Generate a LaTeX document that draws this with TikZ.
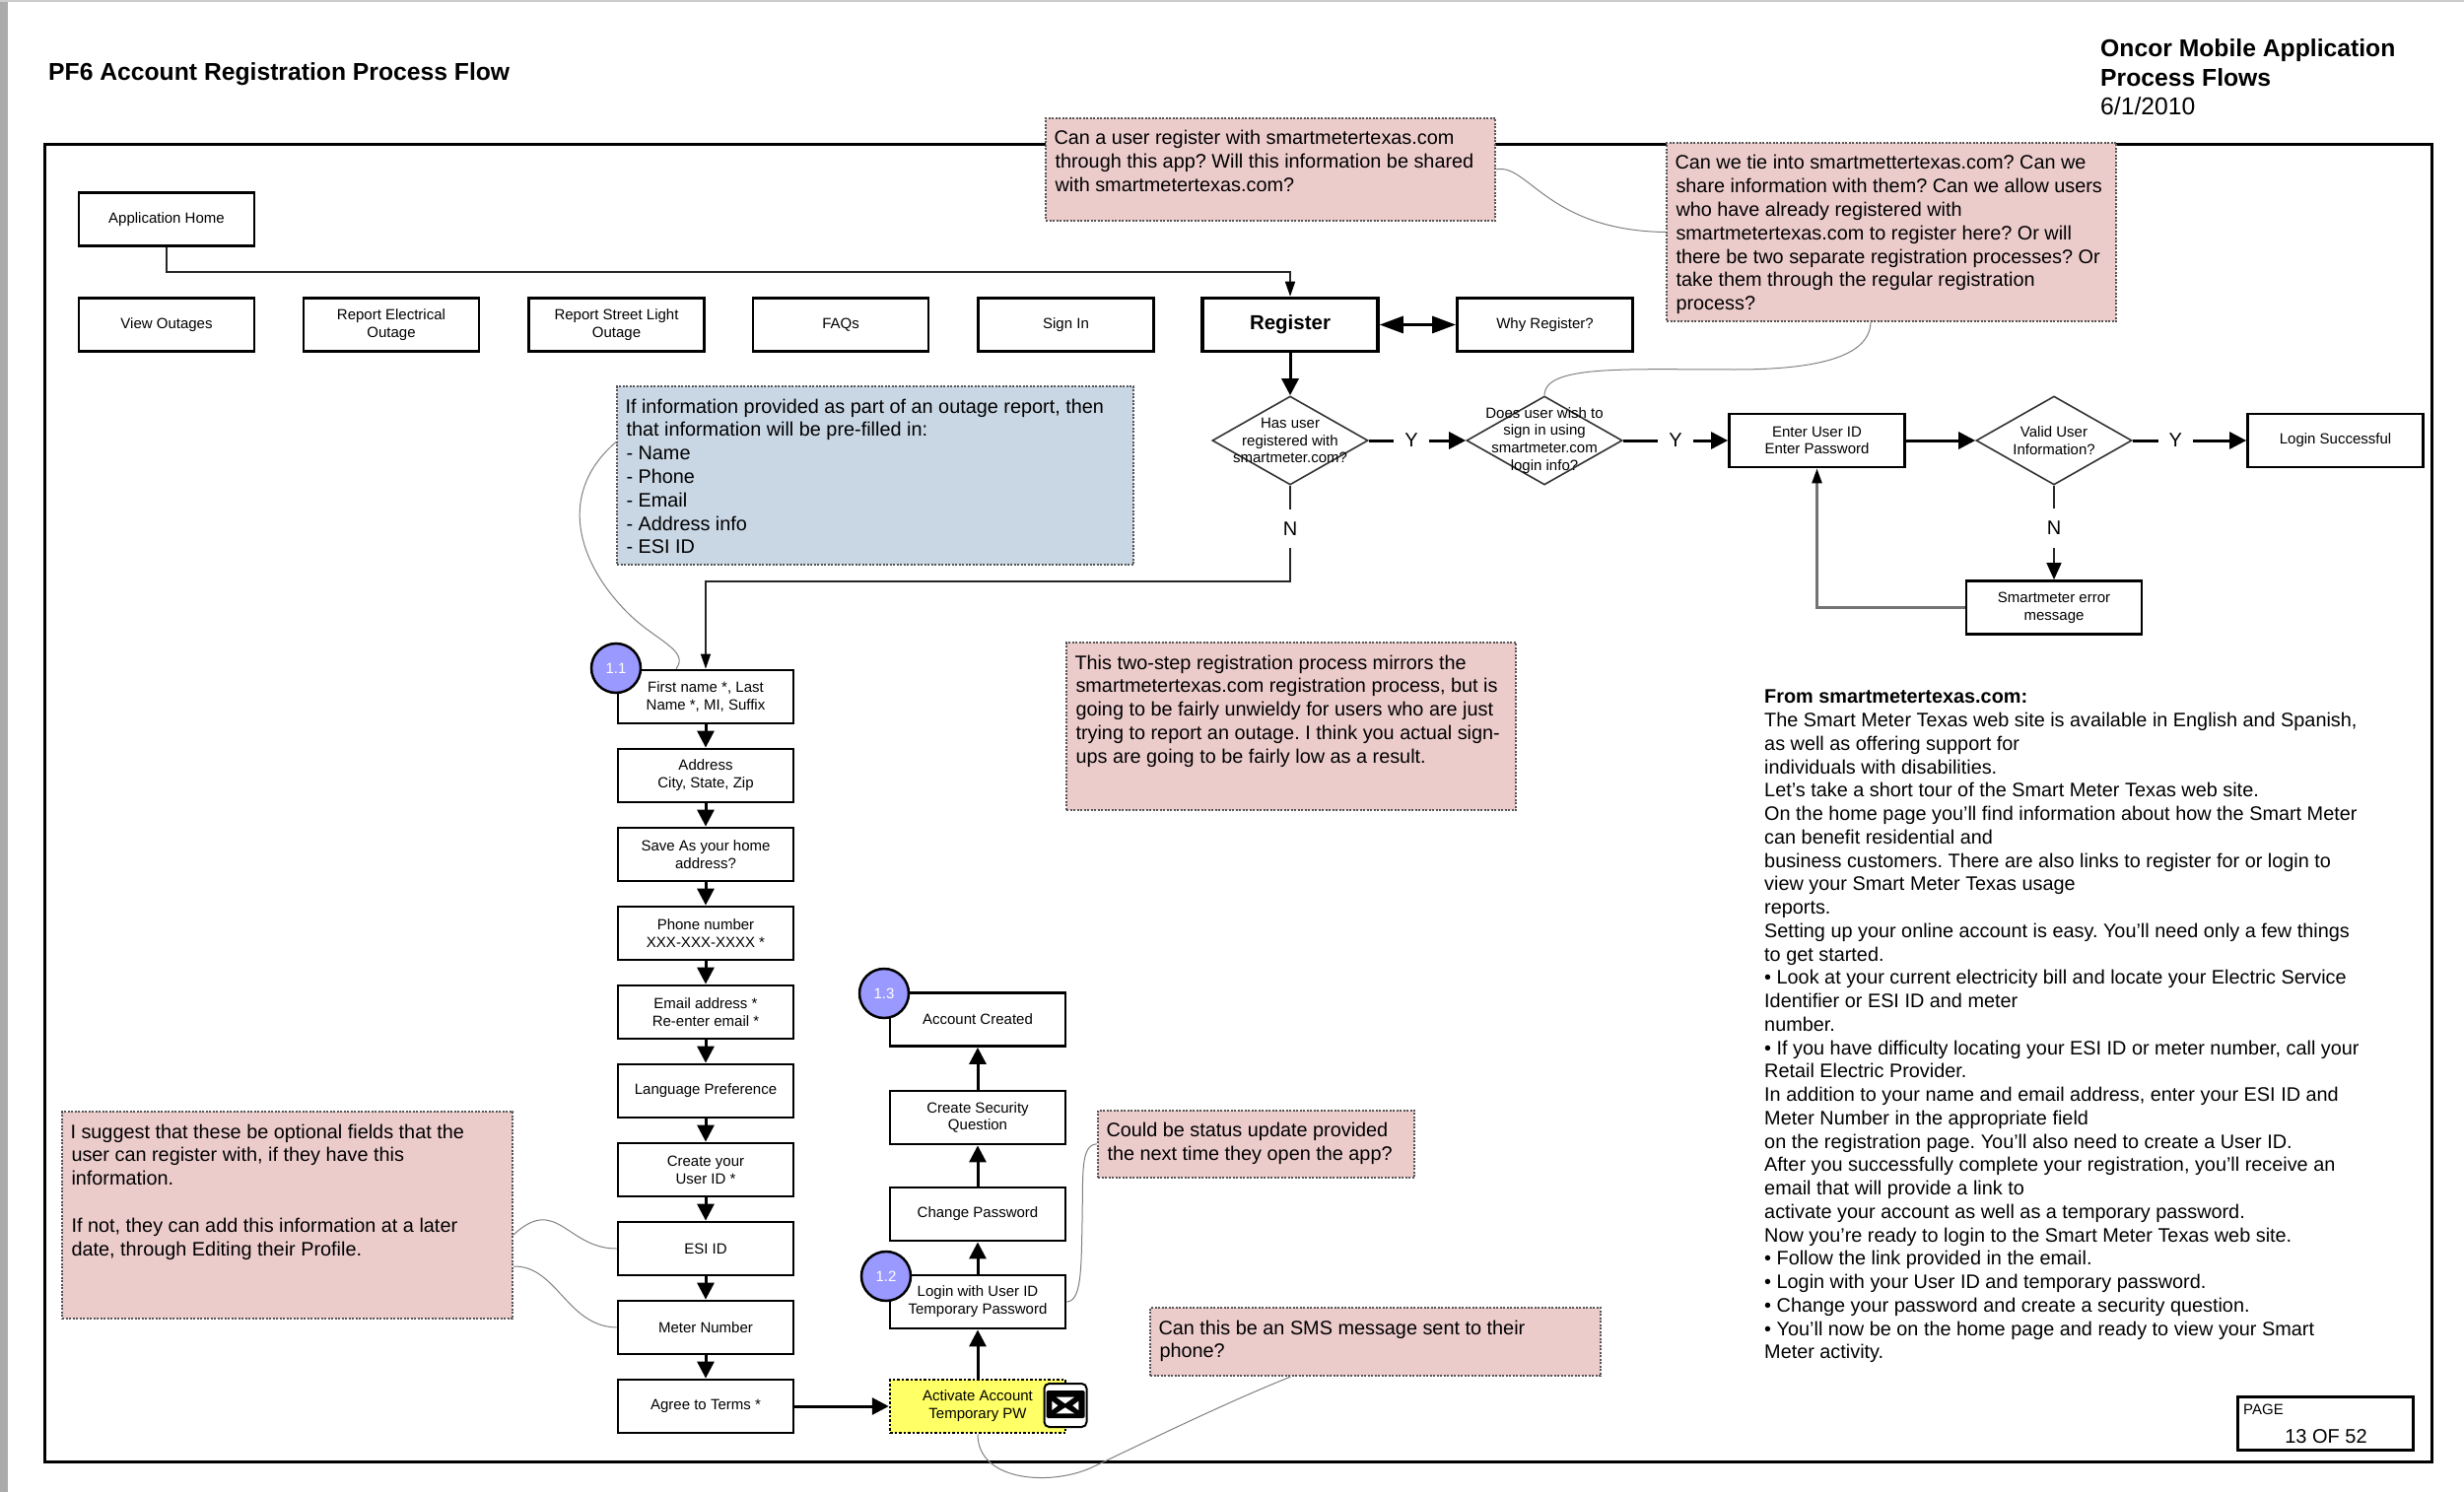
\documentclass[tikz,border=0pt]{standalone}
\usepackage{fontspec}
\setmainfont{Liberation Sans}
\usetikzlibrary{arrows.meta,shapes.geometric}
\definecolor{notepink}{RGB}{236,203,203}
\definecolor{noteblue}{RGB}{201,214,228}
\definecolor{noteline}{RGB}{85,85,85}
\definecolor{markblue}{RGB}{153,153,255}
\definecolor{mailyellow}{RGB}{255,255,102}
\newcommand{\fsmall}{\fontsize{15}{17.8}\selectfont}
\newcommand{\fnote}{\fontsize{19.85}{23.8}\selectfont\frenchspacing}
\newcommand{\notetext}[3]{\parbox[c][#2pt][t]{#1pt}{\raggedright\hspace*{-1pt}\rule{0pt}{27pt}#3}}
\tikzset{
    x=1pt,y=-1pt,
    stepbox/.style={draw,line width=2.8pt,fill=white,inner sep=0pt,minimum width=178pt,minimum height=54pt,align=center,font=\fsmall},
    bigbox/.style={stepbox,line width=3.5pt,font=\fontsize{20.5}{24}\selectfont\bfseries},
    mailbox/.style={stepbox,fill=mailyellow,line width=2.5pt,dash pattern=on 2.5pt off 2pt},
    decision/.style={draw,diamond,line width=1.6pt,draw=black!80,inner sep=0pt,minimum width=158pt,minimum height=90pt,aspect=1.756},
    decisiontext/.style={font=\fsmall,align=center},
    note/.style={draw=noteline,line width=2pt,dash pattern=on 2pt off 1.5pt,inner xsep=9.5pt,inner ysep=0pt,anchor=north west,font=\fnote},
    stepmark/.style={draw,circle,line width=2.5pt,fill=markblue,text=white,inner sep=0pt,minimum size=50pt,font=\fsmall},
    flow/.style={line width=3pt,-{Triangle[length=17pt,width=17pt]}},
    link/.style={line width=1.6pt,draw=black!85},
    linktip/.style={link,-{Triangle[length=15pt,width=10pt,black]}},
    remark/.style={line width=1pt,draw=black!50},
    answer/.style={fill=white,font=\fontsize{20}{24}\selectfont,inner xsep=11pt,inner ysep=13pt},
}
\begin{document}
\begin{tikzpicture}
    \useasboundingbox (0,0) rectangle (2500,1514);
    \fill[white] (0,0) rectangle (2500,1514);
    \fill[black!33] (0,0) rectangle (8,1514);
    \fill[black!20] (0,0) rectangle (2500,2);
    \draw[line width=3pt] (45,147) rectangle (2467,1483);

    \node[anchor=west,inner sep=0pt,font=\fontsize{24.7}{29.5}\selectfont\bfseries] (title) at (49,75.5) {PF6 Account Registration Process Flow};
    \node[anchor=north west,inner sep=0pt,align=left,font=\fontsize{24.7}{29.5}\selectfont] (heading) at (2131,39.5) {\textbf{Oncor Mobile Application}\\\textbf{Process Flows}\\6/1/2010};

    \node[stepbox] (home) at (169,222.5) {Application Home};
    \node[stepbox] (outages) at (169,329.5) {View Outages};
    \node[stepbox] (electrical) at (397,329.5) {Report Electrical\\Outage};
    \node[stepbox] (streetlight) at (625.5,329.5) {Report Street Light\\Outage};
    \node[stepbox] (faqs) at (853,329.5) {FAQs};
    \node[stepbox] (signin) at (1081.5,329.5) {Sign In};
    \node[bigbox] (register) at (1309,329.5) {Register};
    \node[stepbox] (why) at (1567.5,329.5) {Why Register?};

    \node[decision,label={[decisiontext]center:Has user\\registered with\\smartmeter.com?}] (hasuser) at (1309,447) {};
    \node[decision,label={[decisiontext]center:Does user wish to\\sign in using\\smartmeter.com\\login info?}] (wishsign) at (1567,447) {};
    \node[stepbox] (enter) at (1843.5,447) {Enter User ID\\Enter Password};
    \node[decision,label={[decisiontext]center:Valid User\\Information?}] (valid) at (2084,447) {};
    \node[stepbox] (success) at (2369.5,447) {Login Successful};
    \node[stepbox] (error) at (2084,616.5) {Smartmeter error\\message};

    \node[stepbox] (first) at (716,707) {First name *, Last\\Name *, MI, Suffix};
    \node[stepbox] (address) at (716,787) {Address\\City, State, Zip};
    \node[stepbox] (save) at (716,867) {Save As your home\\address?};
    \node[stepbox] (phone) at (716,947) {Phone number\\XXX-XXX-XXXX *};
    \node[stepbox] (email) at (716,1027) {Email address *\\Re-enter email *};
    \node[stepbox] (language) at (716,1107) {Language Preference};
    \node[stepbox] (userid) at (716,1187) {Create your\\User ID *};
    \node[stepbox] (esi) at (716,1267) {ESI ID};
    \node[stepbox] (meter) at (716,1347) {Meter Number};
    \node[stepbox] (terms) at (716,1427) {Agree to Terms *};

    \node[stepbox] (created) at (992,1034.5) {Account Created};
    \node[stepbox] (security) at (992,1134) {Create Security\\Question};
    \node[stepbox] (change) at (992,1232) {Change Password};
    \node[stepbox] (login) at (992,1321) {Login with User ID\\Temporary Password};
    \node[mailbox] (activate) at (992,1427) {Activate Account\\Temporary PW};

    \coordinate (hometurn) at (169,276);
    \draw[linktip] (home.south) -- (hometurn) -| (register.north);
    \draw[flow,{Triangle[length=24pt,width=17pt]}-{Triangle[length=24pt,width=17pt]}] (register) -- (why);
    \draw[flow] (register) -- (hasuser);
    \draw[flow] (hasuser) -- node[answer,pos=.44]{Y} (wishsign);
    \draw[flow] (wishsign) -- node[answer]{Y} (enter);
    \draw[flow] (enter) -- (valid);
    \draw[flow] (valid) -- node[answer,pos=.376]{Y} (success);
    \draw[link,-{Triangle[length=17pt,width=15pt,black]}] (valid) -- node[answer,pos=.45]{N} (error);
    \draw[linktip,draw=black!55,line width=2.5pt] (error) -| (enter);
    \coordinate (noturn) at (1309,590);
    \draw[linktip] (hasuser) -- node[answer,pos=.45]{N} (noturn) -| (first);

    \draw[flow] (first) -- (address);
    \draw[flow] (address) -- (save);
    \draw[flow] (save) -- (phone);
    \draw[flow] (phone) -- (email);
    \draw[flow] (email) -- (language);
    \draw[flow] (language) -- (userid);
    \draw[flow] (userid) -- (esi);
    \draw[flow] (esi) -- (meter);
    \draw[flow] (meter) -- (terms);
    \draw[flow] (terms) -- (activate);
    \draw[flow] (activate) -- (login);
    \draw[flow] (login) -- (change);
    \draw[flow] (change) -- (security);
    \draw[flow] (security) -- (created);

    \node[stepmark] (mark1) at (625,678) {1.1};
    \node[stepmark] (mark2) at (899,1295) {1.2};
    \node[stepmark] (mark3) at (897,1008) {1.3};

    \node[draw,line width=2pt,fill=white,rounded corners=5pt,inner sep=0pt,minimum width=43pt,minimum height=44pt] (mail) at (1081,1426) {};
    \node[fill=black,rounded corners=1.5pt,inner sep=0pt,minimum width=39pt,minimum height=28pt] (mailicon) at (1081.2,1425) {};
    \fill[white] (1071.7,1417.7) -- (1090,1417.7) -- (1080.7,1424.3) -- cycle;
    \fill[white] (1071.7,1434.3) -- (1090,1434.3) -- (1080.7,1428.3) -- cycle;
    \fill[white] (1067.3,1421.7) -- (1067.3,1431) -- (1073.3,1426.3) -- cycle;
    \fill[white] (1094.3,1421.7) -- (1094.3,1431) -- (1088.3,1426.3) -- cycle;

    \node[note,fill=notepink] (tiein) at (1060,119) {\notetext{437}{104}{Can a user register with smartmetertexas.com\\through this app? Will this information be shared\\with smartmetertexas.com?}};
    \node[note,fill=notepink] (share) at (1690,144) {\notetext{437}{181}{Can we tie into smartmettertexas.com? Can we\\share information with them? Can we allow users\\who have already registered with\\smartmetertexas.com to register here? Or will\\there be two separate registration processes? Or\\take them through the regular registration\\process?}};
    \node[note,fill=noteblue] (prefill) at (625,391) {\notetext{505}{181}{If information provided as part of an outage report, then\\that information will be pre-filled in:\\- Name\\- Phone\\- Email\\- Address info\\- ESI ID}};
    \node[note,fill=notepink] (twostep) at (1081,651) {\notetext{437}{170}{This two-step registration process mirrors the\\smartmetertexas.com registration process, but is\\going to be fairly unwieldy for users who are just\\trying to report an outage. I think you actual sign-\\ups are going to be fairly low as a result.}};
    \node[note,fill=notepink] (optional) at (62,1127) {\notetext{438}{210}{I suggest that these be optional fields that the\\user can register with, if they have this\\information.\\\mbox{}\\If not, they can add this information at a later\\date, through Editing their Profile.}};
    \node[note,fill=notepink] (status) at (1113,1125.5) {\notetext{302}{68.5}{Could be status update provided\\the next time they open the app?}};
    \node[note,fill=notepink] (sms) at (1166,1326) {\notetext{438}{69}{Can this be an SMS message sent to their\\phone?}};

    \draw[remark] (tiein.east) .. controls (1550,165) and (1570,234) .. (share.west);
    \draw[remark] ([xshift=-21pt]share.south) .. controls (1897,360) and (1850,375) .. (1760,375) .. controls (1650,375) and (1567,370) .. (wishsign.north);
    \draw[remark] ([yshift=34pt]prefill.west) .. controls (565,500) and (585,570) .. (637,622) .. controls (665,650) and (700,660) .. ([xshift=-30pt]first.north);
    \draw[remark] ([yshift=-20pt]optional.east) .. controls (565,1212) and (575,1267) .. (esi.west);
    \draw[remark] ([yshift=-52pt]optional.east) .. controls (565,1284) and (575,1346) .. (meter.west);
    \draw[remark] (status.west) .. controls (1096,1162) and (1099,1190) .. (1098,1240) .. controls (1097,1290) and (1097,1320) .. (login.east);
    \draw[remark] ([xshift=-86pt]sms.south) .. controls (1240,1425) and (1165,1462) .. (1110,1488) .. controls (1070,1508) and (992,1505) .. (activate.south);

    \node[anchor=north west,inner sep=0pt,align=left,font=\fontsize{19.85}{23.75}\selectfont\frenchspacing] (source) at (1790,700) {\textbf{From smartmetertexas.com:}\\
        The Smart Meter Texas web site is available in English and Spanish,\\
        as well as offering support for\\
        individuals with disabilities.\\
        Let's take a short tour of the Smart Meter Texas web site.\\
        On the home page you'll find information about how the Smart Meter\\
        can benefit residential and\\
        business customers. There are also links to register for or login to\\
        view your Smart Meter Texas usage\\
        reports.\\
        Setting up your online account is easy. You'll need only a few things\\
        to get started.\\
        • Look at your current electricity bill and locate your Electric Service\\
        Identifier or ESI ID and meter\\
        number.\\
        • If you have difficulty locating your ESI ID or meter number, call your\\
        Retail Electric Provider.\\
        In addition to your name and email address, enter your ESI ID and\\
        Meter Number in the appropriate field\\
        on the registration page. You'll also need to create a User ID.\\
        After you successfully complete your registration, you'll receive an\\
        email that will provide a link to\\
        activate your account as well as a temporary password.\\
        Now you're ready to login to the Smart Meter Texas web site.\\
        • Follow the link provided in the email.\\
        • Login with your User ID and temporary password.\\
        • Change your password and create a security question.\\
        • You'll now be on the home page and ready to view your Smart\\
        Meter activity.};

    \node[draw,line width=3pt,inner sep=0pt,minimum width=178pt,minimum height=54pt] (pagebox) at (2359.5,1444) {};
    \node[anchor=west,inner sep=0pt,font=\fsmall] (pagelabel) at (2276,1430) {PAGE};
    \node[inner sep=0pt,font=\fontsize{20}{24}\selectfont] (pagenum) at (2360,1458) {13 OF 52};
\end{tikzpicture}
\end{document}
